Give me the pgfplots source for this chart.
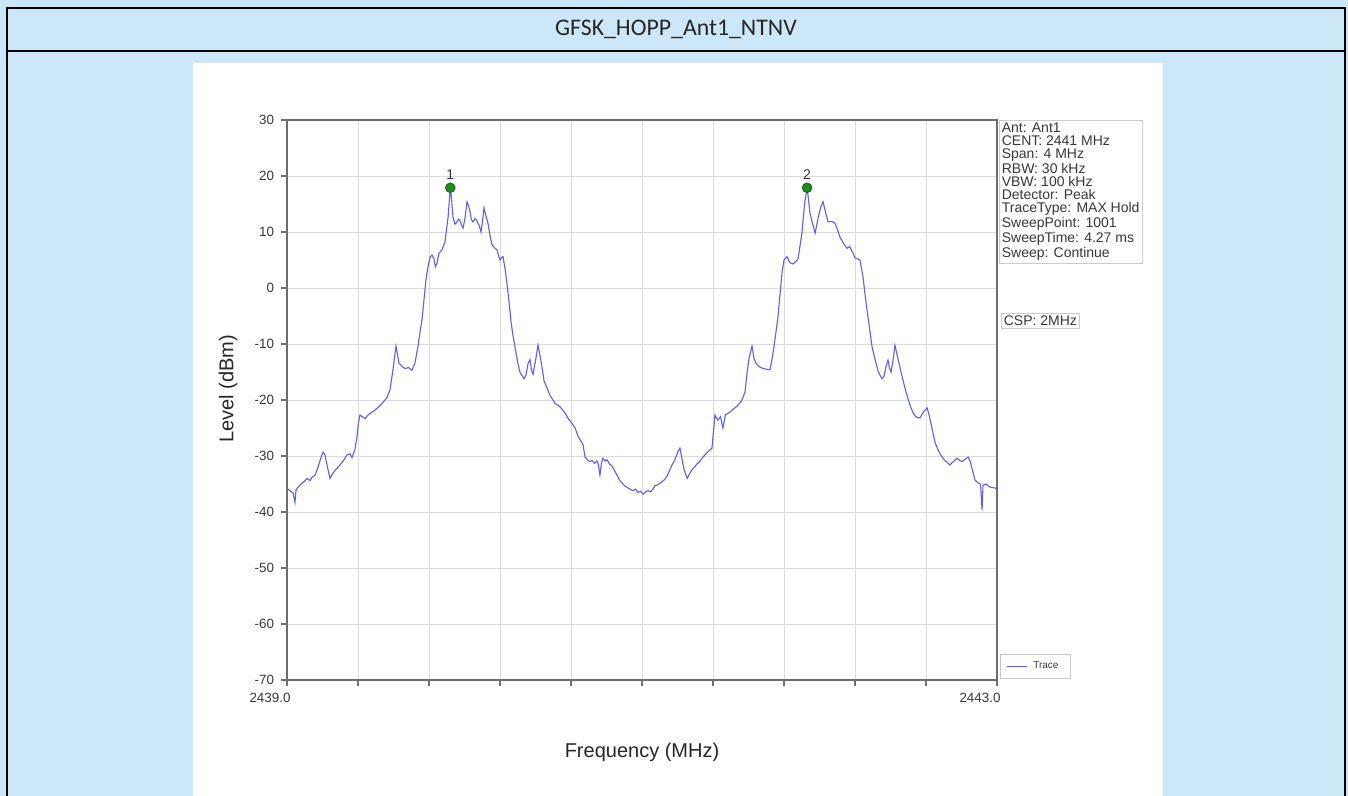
\documentclass[border=0pt]{standalone}
\usepackage{fontspec}
\setmainfont{Liberation Sans}
\newfontfamily\carlito{Carlito}
\usepackage{pgfplots}
\pgfplotsset{compat=1.18}
\definecolor{bgblue}{RGB}{204,231,248}
\definecolor{tracecol}{RGB}{95,95,225}
\definecolor{mkgreen}{RGB}{30,140,30}
\definecolor{axgray}{RGB}{110,110,110}
\definecolor{txtgray}{RGB}{55,55,55}
\begin{document}
\begin{tikzpicture}
\useasboundingbox (0,0) rectangle (674pt,-398pt);
\begin{scope}[x=0.5pt,y=-0.5pt]
 \fill[bgblue] (0,0) rectangle (1348,796);
 \fill[white] (193,63) rectangle (1163,796);
 \draw[line width=1pt] (6.7,800) -- (6.7,7.7) -- (1345,7.7) -- (1345,800);
 \draw[line width=1pt] (6.7,50.7) -- (1345,50.7);
 \node[font=\carlito\fontsize{11.9}{13}\selectfont, text=black!85] at (676,29) {GFSK\_HOPP\_Ant1\_NTNV};
\end{scope}
\begin{axis}[
  at={(143.5pt,-340pt)}, anchor=south west,
  width=355pt, height=280pt, scale only axis,
  xmin=2439, xmax=2443, ymin=-70, ymax=30,
  xtick={2439.0,2439.4,2439.8,2440.2,2440.6,2441.0,2441.4,2441.8,2442.2,2442.6,2443.0},
  xticklabels={2439.0,{},{},{},{},{},{},{},{},{},2443.0},
  ytick={-70,-60,-50,-40,-30,-20,-10,0,10,20,30},
  xtick pos=bottom, ytick pos=left,
  /pgf/number format/assume math mode=true,
  tick align=outside, major tick length=3pt,
  tick style={axgray, line width=0.6pt},
  xmajorgrids, ymajorgrids,
  grid style={gray!28, line width=0.5pt},
  axis line style={axgray, line width=1.2pt},
  ticklabel style={font=\fontsize{6.7}{7}\selectfont, text=txtgray},
  xticklabel style={xshift=-8.5pt},
  xlabel={Frequency (MHz)}, ylabel={Level (dBm)},
  label style={font=\fontsize{10}{12}\selectfont, text=black!85},
  xlabel style={at={(axis description cs:0.5,-0.129)}, anchor=center},
  ylabel style={at={(axis description cs:-0.083,0.52)}, anchor=center},
  legend style={at={(1.004,0.002)}, anchor=south west, font=\fontsize{5}{6}\selectfont, draw=gray!45, inner xsep=3pt, inner ysep=1.5pt, text=txtgray, nodes={inner xsep=3pt}},
  legend image code/.code={\draw[#1] (0pt,0pt) -- (10pt,0pt);},
  clip=false,
]
\addplot[tracecol, line width=0.55pt] coordinates {
(2439.000,-35.8) (2439.017,-36.2) (2439.034,-36.6) (2439.045,-38.3) (2439.051,-36.0)
(2439.062,-35.6) (2439.079,-35.0) (2439.096,-34.6) (2439.113,-34.0) (2439.130,-34.4)
(2439.141,-33.8) (2439.158,-33.4) (2439.175,-32.0) (2439.192,-30.2) (2439.203,-29.3)
(2439.214,-29.8) (2439.228,-32.0) (2439.242,-34.0) (2439.256,-33.2) (2439.270,-32.6)
(2439.299,-31.6) (2439.318,-30.8) (2439.338,-29.8) (2439.355,-29.6) (2439.366,-30.3)
(2439.383,-28.8) (2439.394,-26.6) (2439.403,-24.0) (2439.411,-22.7) (2439.425,-23.0)
(2439.439,-23.3) (2439.456,-22.7) (2439.468,-22.4) (2439.496,-21.8) (2439.524,-21.0)
(2439.541,-20.4) (2439.563,-19.6) (2439.580,-18.2) (2439.597,-14.6) (2439.614,-10.4)
(2439.623,-12.0) (2439.631,-13.4) (2439.648,-14.0) (2439.665,-14.4) (2439.684,-14.2)
(2439.704,-14.7) (2439.721,-13.4) (2439.738,-10.4) (2439.749,-8.0) (2439.761,-5.5)
(2439.772,-2.0) (2439.783,1.5) (2439.795,4.0) (2439.806,5.5) (2439.817,5.9)
(2439.828,5.2) (2439.836,3.8) (2439.845,4.4) (2439.856,6.2) (2439.873,6.8)
(2439.890,8.2) (2439.899,10.5) (2439.907,12.5) (2439.913,15.0) (2439.920,17.9)
(2439.927,16.0) (2439.935,12.7) (2439.946,11.4) (2439.958,11.8) (2439.966,12.3)
(2439.975,12.0) (2439.983,11.2) (2439.992,10.7) (2440.003,12.5) (2440.014,15.4)
(2440.022,14.8) (2440.031,13.6) (2440.039,12.2) (2440.048,11.8) (2440.059,12.4)
(2440.070,12.0) (2440.082,11.2) (2440.093,10.0) (2440.101,11.8) (2440.110,14.3)
(2440.118,13.2) (2440.132,11.6) (2440.143,9.5) (2440.155,7.7) (2440.169,7.2)
(2440.183,6.8) (2440.192,5.8) (2440.200,5.0) (2440.208,5.4) (2440.217,5.6)
(2440.228,3.5) (2440.239,0.9) (2440.251,-2.5) (2440.262,-6.0) (2440.273,-8.5)
(2440.285,-10.6) (2440.301,-13.5) (2440.314,-15.2) (2440.324,-15.6) (2440.335,-16.2)
(2440.346,-15.6) (2440.358,-13.5) (2440.369,-12.8) (2440.378,-14.8) (2440.386,-15.4)
(2440.400,-13.0) (2440.414,-10.2) (2440.425,-12.0) (2440.437,-14.2) (2440.448,-16.6)
(2440.459,-17.4) (2440.482,-19.2) (2440.510,-20.6) (2440.538,-21.2) (2440.566,-22.3)
(2440.586,-23.4) (2440.606,-24.2) (2440.623,-25.0) (2440.639,-26.4) (2440.655,-27.3)
(2440.668,-28.0) (2440.679,-30.2) (2440.690,-30.6) (2440.704,-31.0) (2440.718,-30.8)
(2440.732,-31.3) (2440.746,-30.9) (2440.754,-31.5) (2440.763,-33.4) (2440.772,-31.2)
(2440.780,-30.4) (2440.792,-30.9) (2440.803,-30.7) (2440.817,-31.4) (2440.831,-31.8)
(2440.845,-32.6) (2440.859,-33.4) (2440.873,-34.3) (2440.887,-34.8) (2440.901,-35.3)
(2440.915,-35.6) (2440.932,-35.9) (2440.949,-36.2) (2440.963,-35.9) (2440.977,-36.5)
(2440.992,-36.3) (2441.006,-36.8) (2441.020,-36.4) (2441.034,-36.2) (2441.048,-36.4)
(2441.062,-35.9) (2441.073,-35.3) (2441.085,-35.2) (2441.099,-34.9) (2441.113,-34.6)
(2441.127,-34.2) (2441.141,-33.6) (2441.155,-32.6) (2441.169,-31.6) (2441.180,-31.0)
(2441.192,-30.1) (2441.203,-29.2) (2441.214,-28.6) (2441.225,-30.5) (2441.237,-32.4)
(2441.254,-34.0) (2441.268,-33.2) (2441.282,-32.4) (2441.296,-32.0) (2441.310,-31.4)
(2441.324,-31.0) (2441.338,-30.4) (2441.352,-29.9) (2441.366,-29.4) (2441.380,-29.0)
(2441.394,-28.6) (2441.403,-25.5) (2441.411,-22.7) (2441.420,-23.2) (2441.428,-23.6)
(2441.442,-23.0) (2441.456,-25.0) (2441.470,-22.6) (2441.485,-22.4) (2441.504,-21.9)
(2441.524,-21.4) (2441.538,-21.0) (2441.552,-20.5) (2441.566,-19.8) (2441.580,-18.6)
(2441.592,-15.2) (2441.603,-12.5) (2441.620,-10.4) (2441.631,-12.6) (2441.642,-13.4)
(2441.659,-14.0) (2441.676,-14.3) (2441.699,-14.5) (2441.721,-14.6) (2441.732,-12.8)
(2441.744,-10.4) (2441.755,-7.8) (2441.766,-5.2) (2441.778,-1.0) (2441.789,2.8)
(2441.800,5.0) (2441.817,5.6) (2441.828,4.8) (2441.839,4.4) (2441.850,4.3)
(2441.862,4.6) (2441.879,5.2) (2441.890,7.5) (2441.901,9.8) (2441.910,13.0)
(2441.918,15.5) (2441.930,17.9) (2441.938,15.8) (2441.946,13.4) (2441.960,11.6)
(2441.975,9.8) (2441.986,11.5) (2441.997,13.2) (2442.009,14.6) (2442.020,15.4)
(2442.034,13.5) (2442.048,11.8) (2442.068,11.9) (2442.087,11.6) (2442.101,10.4)
(2442.115,9.1) (2442.135,8.0) (2442.155,7.1) (2442.169,7.4) (2442.183,6.6)
(2442.200,5.4) (2442.214,5.2) (2442.228,5.0) (2442.245,2.0) (2442.256,-1.0)
(2442.268,-4.0) (2442.282,-7.2) (2442.296,-10.5) (2442.307,-12.0) (2442.318,-13.4)
(2442.330,-14.8) (2442.341,-15.6) (2442.352,-16.2) (2442.363,-15.8) (2442.375,-14.0)
(2442.386,-12.9) (2442.394,-14.2) (2442.403,-15.0) (2442.414,-13.0) (2442.425,-10.2)
(2442.436,-11.8) (2442.448,-13.4) (2442.459,-15.0) (2442.470,-16.4) (2442.484,-18.2)
(2442.499,-19.8) (2442.513,-21.2) (2442.527,-22.3) (2442.538,-22.8) (2442.549,-23.1)
(2442.566,-23.2) (2442.577,-22.6) (2442.589,-22.0) (2442.606,-21.4) (2442.617,-22.6)
(2442.628,-24.2) (2442.640,-26.0) (2442.651,-27.6) (2442.668,-28.9) (2442.682,-29.8)
(2442.696,-30.4) (2442.707,-30.8) (2442.718,-31.1) (2442.735,-31.6) (2442.746,-31.2)
(2442.758,-30.9) (2442.775,-30.4) (2442.789,-30.8) (2442.803,-31.0) (2442.820,-30.6)
(2442.837,-30.2) (2442.848,-30.9) (2442.859,-32.2) (2442.876,-34.3) (2442.893,-34.8)
(2442.907,-35.0) (2442.916,-39.6) (2442.921,-35.2) (2442.938,-35.0) (2442.952,-35.4)
(2442.966,-35.6) (2442.989,-35.7) (2443.000,-36.0)
};
\addlegendentry{Trace}
\addplot[only marks, mark=*, mark size=2.4pt, mark options={fill=mkgreen, draw=mkgreen!70!black, line width=0.4pt},
  point meta=explicit symbolic, nodes near coords,
  every node near coord/.append style={anchor=south, font=\fontsize{7}{8}\selectfont, text=txtgray, yshift=0.5pt},
  forget plot] coordinates {
(2439.920,17.9) [1]
(2441.930,17.9) [2]
};
\end{axis}
\begin{scope}[x=0.5pt,y=-0.5pt]
 \node[draw=gray!40, fill=white, anchor=north west, align=left, inner sep=1.2pt,
   font=\fontsize{7}{6.5}\selectfont, text=txtgray] at (999,120)
   {Ant: Ant1\\CENT: 2441 MHz\\Span: 4 MHz\\RBW: 30 kHz\\VBW: 100 kHz\\Detector: Peak\\TraceType: MAX Hold\\SweepPoint: 1001\\SweepTime: 4.27 ms\\Sweep: Continue};
 \node[draw=gray!40, fill=white, anchor=north west, inner sep=1.2pt,
   font=\fontsize{7}{6.5}\selectfont, text=txtgray] at (1001,313) {CSP: 2MHz};
\end{scope}
\end{tikzpicture}
\end{document}
